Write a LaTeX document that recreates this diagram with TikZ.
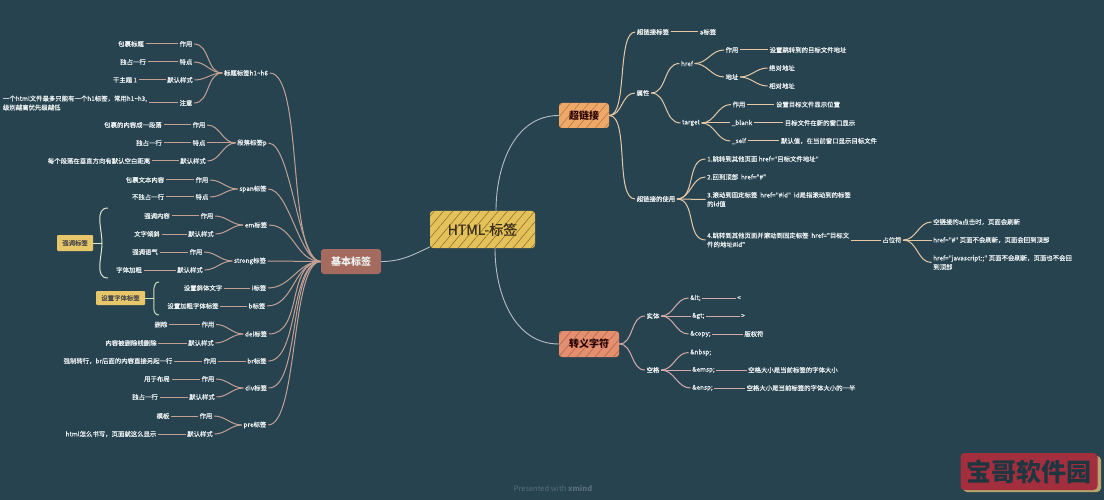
\documentclass[tikz,border=0pt]{standalone}
\usepackage{fontspec}
\setmainfont{Noto Sans CJK SC}
\newfontfamily\mapfont[FakeBold=0.25]{Noto Sans CJK SC}
\usetikzlibrary{patterns.meta,positioning}
\definecolor{mapbg}{RGB}{39,67,80}
\definecolor{textwhite}{RGB}{238,242,242}
\definecolor{rootyellow}{RGB}{229,193,90}
\definecolor{baseBrown}{RGB}{165,107,94}
\definecolor{linkOrange}{RGB}{240,168,104}
\definecolor{escapeRed}{RGB}{230,143,110}
\definecolor{rootline}{RGB}{184,190,196}
\definecolor{brownline}{RGB}{196,160,148}
\definecolor{creamline}{RGB}{230,200,165}
\definecolor{pinkline}{RGB}{214,170,170}
\definecolor{bracketwhite}{RGB}{226,230,205}
\definecolor{bracketgreen}{RGB}{200,222,180}
\definecolor{markred}{RGB}{163,47,62}
\definecolor{marktan}{RGB}{183,164,108}
\begin{document}
\begin{tikzpicture}[x=1pt, y=-1pt,
    topic/.style={text=textwhite, font=\mapfont\fontsize{6.4}{9}\selectfont, inner sep=1.5pt, align=left},
    mainbox/.style={rectangle, rounded corners=3pt, font=\fontsize{10}{12}\selectfont\bfseries, inner sep=0pt},
    notebox/.style={rectangle, rounded corners=1pt, fill=rootyellow!90!white, text=black!70, font=\mapfont\fontsize{6.4}{9}\selectfont, inner sep=0pt},
    basewire/.style={brownline, line width=1pt},
    linkwire/.style={creamline, line width=1pt},
    escwire/.style={pinkline, line width=1pt},
    toleft/.style={out=180, in=0},
    toright/.style={out=0, in=180},
    longleft/.style={out=180, in=0, looseness=0.45},
    streaks/.style={pattern={Lines[angle=50, distance=7pt, line width=0.5pt]}}]
\useasboundingbox (0,0) rectangle (1104,500);
\fill[mapbg] (0,0) rectangle (1104,500);

% Main boxes
\node[mainbox, preaction={fill=rootyellow}, streaks, pattern color=black!45!rootyellow, text=black!75!rootyellow, font=\mapfont\fontsize{14}{16}\selectfont, minimum width=105pt, minimum height=37pt] (root) at (482.5,229.5) {HTML-标签};
\node[mainbox, fill=baseBrown, text=textwhite, minimum width=60pt, minimum height=25pt] (base) at (351,261.5) {基本标签};
\node[mainbox, preaction={fill=linkOrange}, streaks, pattern color=black!30!linkOrange, text=black!85!red, minimum width=50pt, minimum height=25pt] (link) at (584,115.5) {超链接};
\node[mainbox, preaction={fill=escapeRed}, streaks, pattern color=black!30!escapeRed, text=black!85!red, minimum width=60pt, minimum height=26pt] (escape) at (589,344) {转义字符};

% Left side: h1~h6
\node[topic] (h16) at (246,73) {标题标签h1\textasciitilde h6};
\node[topic] (h16use) at (186,44) {作用};
\node[topic] (h16mark) at (186,62) {特点};
\node[topic] (h16style) at (180,80) {默认样式};
\node[topic] (h16note) at (186,103) {注意};
\node[topic] (h16usetxt) at (131,44) {包裹标题};
\node[topic] (h16marktxt) at (133,62) {独占一行};
\node[topic] (h16styletxt) at (125,80) {干主题 1};
\node[topic] (h16notetxt) at (75,103) {一个html文件最多只能有一个h1标签，常用h1\textasciitilde h3,\\级别越高优先级越低};

% Left side: p
\node[topic] (ptag) at (252,143) {段落标签p};
\node[topic] (puse) at (199,125) {作用};
\node[topic] (pmark) at (199,143) {特点};
\node[topic] (pstyle) at (193,161) {默认样式};
\node[topic] (pusetxt) at (133,125) {包裹的内容成一段落};
\node[topic] (pmarktxt) at (149,143) {独占一行};
\node[topic] (pstyletxt) at (99,161) {每个段落在垂直方向有默认空白距离};

% Left side: span
\node[topic] (span) at (253,189) {span标签};
\node[topic] (spanuse) at (202,180) {作用};
\node[topic] (spanmark) at (202,197) {特点};
\node[topic] (spanusetxt) at (145,180) {包裹文本内容};
\node[topic] (spanmarktxt) at (148,197) {不独占一行};

% Left side: em
\node[topic] (em) at (256,225) {em标签};
\node[topic] (emuse) at (207,216) {作用};
\node[topic] (emstyle) at (201,234) {默认样式};
\node[topic] (emusetxt) at (157,216) {强调内容};
\node[topic] (emstyletxt) at (147,234) {文字倾斜};

% Left side: strong
\node[topic] (strong) at (250,261) {strong标签};
\node[topic] (stronguse) at (196,252) {作用};
\node[topic] (strongstyle) at (190,270) {默认样式};
\node[topic] (strongusetxt) at (145,252) {强调语气};
\node[topic] (strongstyletxt) at (129,270) {字体加粗};

% Left side: i, b
\node[topic] (itag) at (259,288) {i标签};
\node[topic] (itagtxt) at (203,288) {设置斜体文字};
\node[topic] (btag) at (257,306) {b标签};
\node[topic] (btagtxt) at (193,306) {设置加粗字体标签};

% Left side: del
\node[topic] (del) at (256,334) {del标签};
\node[topic] (deluse) at (208,324.5) {作用};
\node[topic] (delstyle) at (201,343) {默认样式};
\node[topic] (delusetxt) at (161,324.5) {删除};
\node[topic] (delstyletxt) at (131,343) {内容被删除线删除};

% Left side: br
\node[topic] (brtag) at (257,361) {br标签};
\node[topic] (bruse) at (210,361) {作用};
\node[topic] (brusetxt) at (118,361) {强制转行，br后面的内容直接另起一行};

% Left side: div
\node[topic] (div) at (256,388) {div标签};
\node[topic] (divuse) at (208,379) {作用};
\node[topic] (divstyle) at (202,397) {默认样式};
\node[topic] (divusetxt) at (157,379) {用于布局};
\node[topic] (divstyletxt) at (145,397) {独占一行};

% Left side: pre
\node[topic] (pre) at (255,425) {pre标签};
\node[topic] (preuse) at (206,416) {作用};
\node[topic] (prestyle) at (200,434) {默认样式};
\node[topic] (preusetxt) at (163,416) {模板};
\node[topic] (prestyletxt) at (111,434) {html怎么书写，页面就这么显示};

% Notes with brackets
\node[notebox, minimum width=36pt, minimum height=16pt] (emnote) at (75,243) {强调标签};
\node[notebox, minimum width=49pt, minimum height=14pt] (fontnote) at (120.5,298) {设置字体标签};
\coordinate (emtop) at (108,208);
\coordinate (emmid) at (102,243);
\coordinate (embot) at (108,278);
\coordinate (fonttop) at (159,282);
\coordinate (fontmid) at (154,298);
\coordinate (fontbot) at (159,315);

% Right side: hyperlink
\node[topic] (atitle) at (653,32) {超链接标签};
\node[topic] (atag) at (708,32) {a标签};
\node[topic] (attr) at (643,93) {属性};
\node[topic] (href) at (687,63.5) {href};
\node[topic] (hrefuse) at (732,50) {作用};
\node[topic] (hrefusetxt) at (808,50) {设置跳转到的目标文件地址};
\node[topic] (addr) at (732,77) {地址};
\node[topic] (addrabs) at (782,68) {绝对地址};
\node[topic] (addrrel) at (782,86) {相对地址};
\node[topic] (target) at (691,123) {target};
\node[topic] (targetuse) at (739,104.5) {作用};
\node[topic] (targetusetxt) at (808,104.5) {设置目标文件显示位置};
\node[topic] (blank) at (742,123) {\_blank};
\node[topic] (blanktxt) at (820,123) {目标文件在新的窗口显示};
\node[topic] (self) at (739,141) {\_self};
\node[topic] (selftxt) at (829,141) {默认值，在当前窗口显示目标文件};

% Right side: hyperlink usage
\node[topic] (usage) at (656,199) {超链接的使用};
\node[topic, anchor=west] (use1) at (705.5,159) {1.跳转到其他页面 href="目标文件地址"};
\node[topic, anchor=west] (use2) at (705.5,177) {2.回到顶部\ \ href="\#"};
\node[topic, anchor=west] (use3) at (705.5,199.5) {3.滚动到固定标签\ \ href="\#id"\ \ id是指滚动到的标签\\的id值};
\node[topic, anchor=west] (use4) at (705.5,240) {4.跳转到其他页面并滚动到固定标签\ \ href="目标文\\件的地址\#id"};
\node[topic] (holder) at (892,240) {占位符};
\node[topic, anchor=west] (holder1) at (931.5,222) {空链接的a点击时，页面会刷新};
\node[topic, anchor=west] (holder2) at (931.5,240) {href="\#" 页面不会刷新，页面会回到顶部};
\node[topic, anchor=west] (holder3) at (931.5,262.5) {href="javascript:;" 页面不会刷新，页面也不会回\\到顶部};

% Right side: escapes
\node[topic] (entity) at (653,316) {实体};
\node[topic, anchor=west] (lt) at (688.5,298) {\&lt;};
\node[topic] (lttxt) at (739,298) {<};
\node[topic, anchor=west] (gt) at (690.5,316) {\&gt;};
\node[topic] (gttxt) at (743,316) {>};
\node[topic, anchor=west] (copy) at (688.5,334) {\&copy;};
\node[topic] (copytxt) at (754,334) {版权符};
\node[topic] (space) at (653,370) {空格};
\node[topic, anchor=west] (nbsp) at (688.5,352.5) {\&nbsp;};
\node[topic, anchor=west] (emsp) at (690.5,370) {\&emsp;};
\node[topic] (emsptxt) at (793,370) {空格大小是当前标签的字体大小};
\node[topic, anchor=west] (ensp) at (690.5,388) {\&ensp;};
\node[topic] (ensptxt) at (801,388) {空格大小是当前标签的字体大小的一半};

% Footer
\node[text=textwhite!25!mapbg, font=\fontsize{7.5}{9}\selectfont, inner sep=0pt] (footer) at (553,488) {Presented with \textbf{xmind}};
\fill[marktan, rounded corners=4pt] (963,456) rectangle (1101,492);
\node[rectangle, rounded corners=4pt, fill=markred, text=mapbg!80!black, font=\fontsize{25}{28}\selectfont\bfseries, minimum width=137pt, minimum height=37pt, inner sep=0pt] (mark) at (1029,471.5) {宝哥软件园};

% Root connectors
\draw[rootline, line width=0.9pt] (base.east) to[out=0, in=205] (root.west |- 0,247);
\draw[rootline, line width=0.9pt] (root.north -| 496,0) to[out=90, in=180] (link.west);
\draw[rootline, line width=0.9pt] (root.south -| 495,0) to[out=-90, in=180] (escape.west);

% Base connectors
\draw[basewire] (base.west) to[longleft] (h16.east);
\draw[basewire] (base.west) to[longleft] (ptag.east);
\draw[basewire] (base.west) to[toleft, looseness=0.6] (span.east);
\draw[basewire] (base.west) to[toleft] (em.east);
\draw[basewire] (base.west) to[toleft] (strong.east);
\draw[basewire] (base.west) to[toleft] (itag.east);
\draw[basewire] (base.west) to[toleft] (btag.east);
\draw[basewire] (base.west) to[toleft] (del.east);
\draw[basewire] (base.west) to[toleft, looseness=0.7] (brtag.east);
\draw[basewire] (base.west) to[toleft, looseness=0.6] (div.east);
\draw[basewire] (base.west) to[longleft] (pre.east);

% Second level, left
\draw[basewire] (h16.west) to[toleft] (h16use.east);
\draw[basewire] (h16.west) to[toleft] (h16mark.east);
\draw[basewire] (h16.west) to[toleft] (h16style.east);
\draw[basewire] (h16.west) to[toleft] (h16note.east);
\draw[basewire] (ptag.west) to[toleft] (puse.east);
\draw[basewire] (ptag.west) -- (pmark.east);
\draw[basewire] (ptag.west) to[toleft] (pstyle.east);
\draw[basewire] (span.west) to[toleft] (spanuse.east);
\draw[basewire] (span.west) to[toleft] (spanmark.east);
\draw[basewire] (em.west) to[toleft] (emuse.east);
\draw[basewire] (em.west) to[toleft] (emstyle.east);
\draw[basewire] (strong.west) to[toleft] (stronguse.east);
\draw[basewire] (strong.west) to[toleft] (strongstyle.east);
\draw[basewire] (itag.west) -- (itagtxt.east);
\draw[basewire] (btag.west) -- (btagtxt.east);
\draw[basewire] (del.west) to[toleft] (deluse.east);
\draw[basewire] (del.west) to[toleft] (delstyle.east);
\draw[basewire] (brtag.west) -- (bruse.east);
\draw[basewire] (div.west) to[toleft] (divuse.east);
\draw[basewire] (div.west) to[toleft] (divstyle.east);
\draw[basewire] (pre.west) to[toleft] (preuse.east);
\draw[basewire] (pre.west) to[toleft] (prestyle.east);

% Third level, left
\draw[basewire] (h16use.west) -- (h16usetxt.east);
\draw[basewire] (h16mark.west) -- (h16marktxt.east);
\draw[basewire] (h16style.west) -- (h16styletxt.east);
\draw[basewire] (h16note.west) -- (h16notetxt.east);
\draw[basewire] (puse.west) -- (pusetxt.east);
\draw[basewire] (pmark.west) -- (pmarktxt.east);
\draw[basewire] (pstyle.west) -- (pstyletxt.east);
\draw[basewire] (spanuse.west) -- (spanusetxt.east);
\draw[basewire] (spanmark.west) -- (spanmarktxt.east);
\draw[basewire] (emuse.west) -- (emusetxt.east);
\draw[basewire] (emstyle.west) -- (emstyletxt.east);
\draw[basewire] (stronguse.west) -- (strongusetxt.east);
\draw[basewire] (strongstyle.west) -- (strongstyletxt.east);
\draw[basewire] (deluse.west) -- (delusetxt.east);
\draw[basewire] (delstyle.west) -- (delstyletxt.east);
\draw[basewire] (bruse.west) -- (brusetxt.east);
\draw[basewire] (divuse.west) -- (divusetxt.east);
\draw[basewire] (divstyle.west) -- (divstyletxt.east);
\draw[basewire] (preuse.west) -- (preusetxt.east);
\draw[basewire] (prestyle.west) -- (prestyletxt.east);

% Brackets
\draw[bracketwhite, line width=1pt] (emtop) to[out=180, in=90] (emmid) to[out=-90, in=180] (embot);
\draw[bracketwhite] (emnote.east) -- (emmid);
\draw[bracketgreen, line width=1pt] (fonttop) to[out=180, in=90] (fontmid) to[out=-90, in=180] (fontbot);
\draw[bracketgreen] (fontnote.east) -- (fontmid);

% Hyperlink connectors
\draw[linkwire] (link.east) to[toright, looseness=0.55] (atitle.west);
\draw[linkwire] (link.east) to[toright] (attr.west);
\draw[linkwire] (link.east) to[toright, looseness=0.6] (usage.west);
\draw[linkwire] (atitle.east) -- (atag.west);
\draw[linkwire] (attr.east) to[toright] (href.west);
\draw[linkwire] (attr.east) to[toright] (target.west);
\draw[linkwire] (href.east) to[toright] (hrefuse.west);
\draw[linkwire] (href.east) to[toright] (addr.west);
\draw[linkwire] (hrefuse.east) -- (hrefusetxt.west);
\draw[linkwire] (addr.east) to[toright] (addrabs.west);
\draw[linkwire] (addr.east) to[toright] (addrrel.west);
\draw[linkwire] (target.east) to[toright] (targetuse.west);
\draw[linkwire] (target.east) -- (blank.west);
\draw[linkwire] (target.east) to[toright] (self.west);
\draw[linkwire] (targetuse.east) -- (targetusetxt.west);
\draw[linkwire] (blank.east) -- (blanktxt.west);
\draw[linkwire] (self.east) -- (selftxt.west);
\draw[linkwire] (usage.east) to[toright] (use1.west);
\draw[linkwire] (usage.east) to[toright] (use2.west);
\draw[linkwire] (usage.east) -- (use3.west);
\draw[linkwire] (usage.east) to[toright] (use4.west);
\draw[linkwire] (use4.east) -- (holder.west);
\draw[linkwire] (holder.east) to[toright] (holder1.west);
\draw[linkwire] (holder.east) -- (holder2.west);
\draw[linkwire] (holder.east) to[toright] (holder3.west);

% Escape connectors
\draw[escwire] (escape.east) to[toright] (entity.west);
\draw[escwire] (escape.east) to[toright] (space.west);
\draw[escwire] (entity.east) to[toright] (lt.west);
\draw[escwire] (entity.east) -- (gt.west);
\draw[escwire] (entity.east) to[toright] (copy.west);
\draw[escwire] (lt.east) -- (lttxt.west);
\draw[escwire] (gt.east) -- (gttxt.west);
\draw[escwire] (copy.east) -- (copytxt.west);
\draw[escwire] (space.east) to[toright] (nbsp.west);
\draw[escwire] (space.east) -- (emsp.west);
\draw[escwire] (space.east) to[toright] (ensp.west);
\draw[escwire] (emsp.east) -- (emsptxt.west);
\draw[escwire] (ensp.east) -- (ensptxt.west);
\end{tikzpicture}
\end{document}
